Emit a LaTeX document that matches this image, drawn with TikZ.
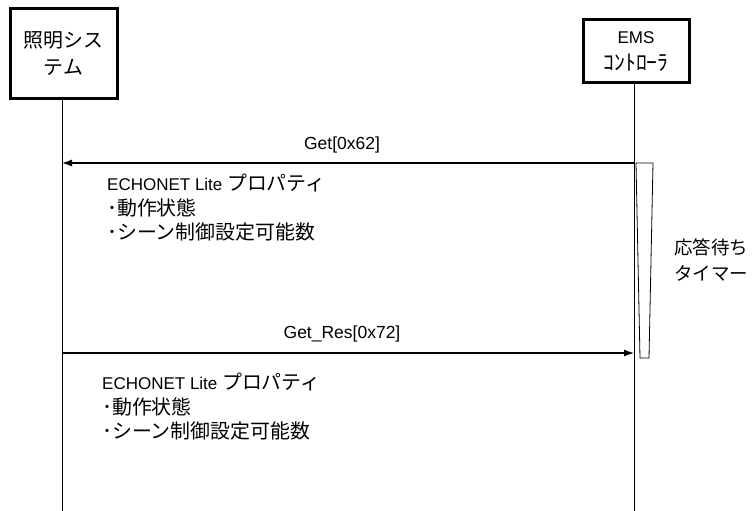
\documentclass[tikz,border=0pt]{standalone}
\usepackage{fontspec}
\setmainfont{Liberation Sans}
\newfontfamily\cjk[Scale=1.17]{Noto Sans CJK JP}
\usetikzlibrary{arrows.meta}
\begin{document}
\begin{tikzpicture}[x=1pt,y=-1pt,
  actor/.style={draw,line width=3pt,fill=white,align=center,inner sep=0pt,font=\fontsize{17}{27}\selectfont},
  life/.style={line width=0.8pt},
  msg/.style={line width=1.2pt,-{Latex[length=10pt,width=7pt]}},
  lbl/.style={font=\fontsize{17.5}{20}\selectfont,inner sep=0pt},
  note/.style={font=\fontsize{17}{24.5}\selectfont,align=left,inner sep=0pt,anchor=north west}]
\useasboundingbox (0,0) rectangle (753,511);
% lifelines
\coordinate (Ltop) at (62,99);
\coordinate (Lbot) at (62,511);
\coordinate (Rtop) at (634,83);
\coordinate (Rbot) at (634,511);
\draw[life] (Ltop) -- (Lbot);
\draw[life] (Rtop) -- (Rbot);
% actors
\node[actor,minimum width=107pt,minimum height=90pt] (light) at (63.5,54) {{\cjk 照明シス}\\{\cjk テム}};
\node[actor,minimum width=106pt,minimum height=63pt] (ems) at (636,51.5) {EMS\\{\cjk\fontsize{18.5}{24}\selectfont ｺﾝﾄﾛｰﾗ}};
% timer
\draw[line width=0.8pt,fill=white] (636,163) -- (653,163) -- (649,358) -- (640,358) -- cycle;
\node[font=\fontsize{15.8}{26}\selectfont,align=left,anchor=west,inner sep=0pt] (timer) at (674,260) {{\cjk 応答待ち}\\{\cjk タイマー}};
% messages
\coordinate (g1) at (634,163);
\coordinate (g2) at (62,163);
\draw[msg] (g1) -- (g2);
\node[lbl] (getlbl) at (342,145) {Get[0x62]};
\coordinate (r1) at (62,353);
\coordinate (r2) at (634,353);
\draw[msg] (r1) -- (r2);
\node[lbl] (reslbl) at (342,334) {Get\_Res[0x72]};
% notes
\node[note] (n1) at (107,174) {ECHONET Lite {\cjk プロパティ}\\{\cjk ･動作状態}\\{\cjk ･シーン制御設定可能数}};
\node[note] (n2) at (102,373) {ECHONET Lite {\cjk プロパティ}\\{\cjk ･動作状態}\\{\cjk ･シーン制御設定可能数}};
\end{tikzpicture}
\end{document}
